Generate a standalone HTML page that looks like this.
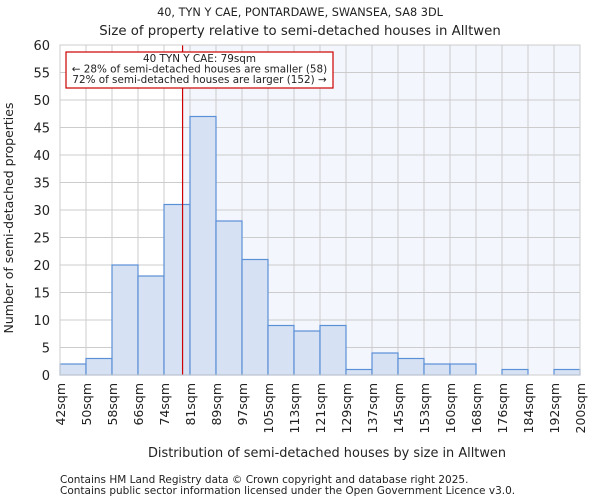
<!DOCTYPE html>
<html><head><meta charset="utf-8"><style>
body{margin:0;background:#fff;font-family:"DejaVu Sans","Liberation Sans",sans-serif;}
text{font-family:"DejaVu Sans","Liberation Sans",sans-serif;fill:#222;}
</style></head><body>
<svg id="c" width="600" height="500" xmlns="http://www.w3.org/2000/svg">
<text x="300" y="16" text-anchor="middle" font-size="11.3">40, TYN Y CAE, PONTARDAWE, SWANSEA, SA8 3DL</text>
<text x="300" y="35" text-anchor="middle" font-size="13.3">Size of property relative to semi-detached houses in Alltwen</text>
<g id="plot"></g>
<text x="327" y="457" text-anchor="middle" font-size="12.9">Distribution of semi-detached houses by size in Alltwen</text>
<text transform="translate(13,218) rotate(-90)" text-anchor="middle" font-size="12.5">Number of semi-detached properties</text>
<text x="60" y="483" font-size="10.5" fill="#444">Contains HM Land Registry data © Crown copyright and database right 2025.</text>
<text x="60" y="494" font-size="10.5" fill="#444">Contains public sector information licensed under the Open Government Licence v3.0.</text>
</svg>
<script>
const labels=["42sqm","50sqm","58sqm","66sqm","74sqm","81sqm","89sqm","97sqm","105sqm","113sqm","121sqm","129sqm","137sqm","145sqm","153sqm","160sqm","168sqm","176sqm","184sqm","192sqm","200sqm"];
const counts=[2,3,20,18,31,47,28,21,9,8,9,1,4,3,2,2,0,1,0,1];
const yTicks=[0,5,10,15,20,25,30,35,40,45,50,55,60];
const edges=[42,50,58,66,74,81,89,97,105,113,121,129,137,145,153,160,168,176,184,192,200];
const markerValue=79;
const L=60,R=580,T=45,B=375,yMax=60;
const NS="http://www.w3.org/2000/svg";
const g=document.getElementById('plot');
const bw=(R-L)/counts.length;
const xi=i=>L+i*bw;
const y=v=>B-(v/yMax)*(B-T);
function xv(v){for(let i=0;i<edges.length-1;i++){if(v>=edges[i]&&v<=edges[i+1])return xi(i)+(v-edges[i])/(edges[i+1]-edges[i])*bw;}return L;}
function el(t,a){const e=document.createElementNS(NS,t);for(const k in a)e.setAttribute(k,a[k]);g.appendChild(e);return e;}
const mx=xv(markerValue);
let bg=el('rect',{x:mx,y:T,width:R-mx,height:B-T,fill:'#f3f6fd'});


yTicks.forEach(t=>{
 const l=el('line',{x1:L,x2:R,y1:y(t),y2:y(t),stroke:'#cccccc','stroke-width':1});
 
 
 const tx=el('text',{x:L-10,y:y(t)+5,'text-anchor':'end','font-size':13});
 tx.textContent=t;
 
 
});
labels.forEach((lb,i)=>{
 const l=el('line',{x1:xi(i),x2:xi(i),y1:T,y2:B,stroke:'#cccccc','stroke-width':1});
 
 
 const tx=el('text',{transform:`translate(${xi(i)+5},${B+8}) rotate(-90)`,'text-anchor':'end','font-size':12.5});
 tx.textContent=lb;
 
 
});
counts.forEach((c,i)=>{
 if(c<=0)return;
 const r=el('rect',{x:xi(i),y:y(c),width:bw,height:B-y(c),fill:'#d6e2f3',stroke:'#5b8fd6','stroke-width':1.2});
 
 
});
let ml=el('line',{x1:mx,x2:mx,y1:T,y2:B,stroke:'#cc0000','stroke-width':1.2});


let box=el('rect',{x:66,y:52,width:267,height:36,fill:'#fff',stroke:'#cc0000','stroke-width':1.2});


["40 TYN Y CAE: 79sqm","← 28% of semi-detached houses are smaller (58)","72% of semi-detached houses are larger (152) →"].forEach((s,i)=>{
 const t=el('text',{x:199.5,y:62+i*10.5,'text-anchor':'middle','font-size':10.4,fill:'#111'});
 t.textContent=s;
 
 
});
let ax=el('rect',{x:L,y:T,width:R-L,height:B-T,fill:'none',stroke:'#cccccc','stroke-width':1});


</script>
</body></html>
